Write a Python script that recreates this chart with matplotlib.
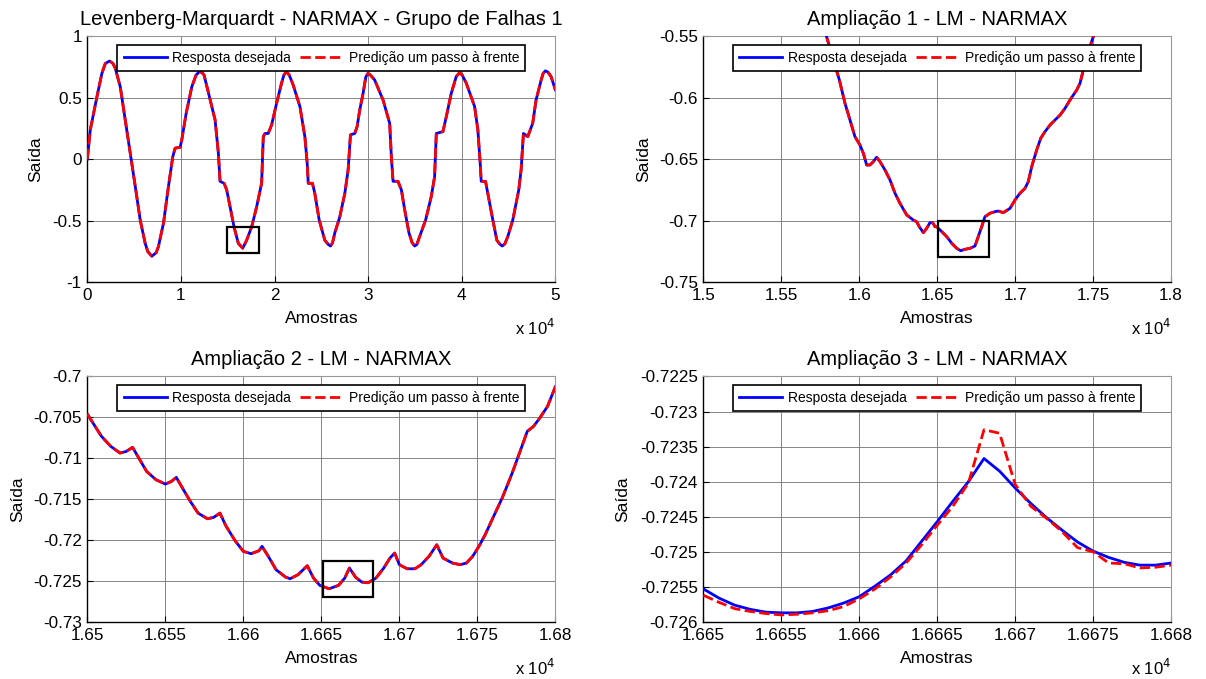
import numpy as np
import matplotlib
matplotlib.use('Agg')
import matplotlib.pyplot as plt
from matplotlib.patches import Rectangle
from matplotlib.ticker import FuncFormatter

plt.rcParams['font.family'] = ['Liberation Sans', 'DejaVu Sans']

# ---- data (sample index, output) ----
# panel 1: whole record
p1_x = [0, 320, 1030, 1560, 1920, 2380, 2740, 2990, 3520, 4050, 4585, 5120, 5650, 6180,
        6470, 6890, 7360, 7600, 8140, 8670, 9130, 9380, 9910, 10090, 10550, 11160, 11620,
        11970, 12260, 12470, 13040, 13650, 14000, 14180, 14610, 14890, 15250, 15670,
        16130, 16600, 17020, 17560, 18090, 18620, 18800, 18980, 19330, 19690, 20220,
        20750, 21000, 21280, 21570, 21990, 22710, 23240, 23490, 23600, 24050, 24300,
        24770, 25370, 25750, 25980, 26200, 26440, 26970, 27510, 27860, 28110, 28570,
        28820, 29100, 29460, 29750, 29990, 30250, 30700, 31590, 32300, 32480, 32660,
        33190, 33550, 33900, 34360, 34700, 34970, 35200, 35500, 36140, 36740, 37100,
        37280, 37990, 38350, 38880, 39410, 39600, 39770, 40050, 40480, 41370, 41720,
        41970, 42080, 42540, 42780, 43320, 43750, 44050, 44320, 44600, 44920, 45450,
        46090, 46340, 46590, 47050, 47580, 47940, 48480, 48700, 48930, 49200, 49540,
        50000]
p1_y = [0.0, 0.24, 0.51, 0.70, 0.78, 0.80, 0.78, 0.74, 0.59, 0.32, 0.05, -0.22, -0.495,
        -0.685, -0.753, -0.79, -0.761, -0.71, -0.52, -0.22, 0.02, 0.09, 0.097, 0.157, 0.37,
        0.59, 0.686, 0.713, 0.705, 0.686, 0.51, 0.32, 0.05, -0.18, -0.196, -0.25, -0.387,
        -0.55, -0.685, -0.725, -0.66, -0.55, -0.387, -0.196, 0.184, 0.21, 0.21, 0.28,
        0.456, 0.62, 0.686, 0.713, 0.686, 0.605, 0.43, 0.184, -0.033, -0.196, -0.196,
        -0.277, -0.495, -0.66, -0.695, -0.707, -0.68, -0.60, -0.47, -0.277, -0.088, 0.198,
        0.21, 0.265, 0.40, 0.537, 0.67, 0.70, 0.685, 0.645, 0.483, 0.293, 0.02, -0.18,
        -0.18, -0.25, -0.41, -0.60, -0.68, -0.707, -0.695, -0.63, -0.495, -0.305, -0.142,
        0.21, 0.225, 0.347, 0.537, 0.673, 0.69, 0.705, 0.685, 0.62, 0.43, 0.24, -0.033,
        -0.18, -0.18, -0.277, -0.495, -0.66, -0.69, -0.707, -0.69, -0.63, -0.495, -0.25,
        -0.088, 0.21, 0.184, 0.293, 0.483, 0.645, 0.70, 0.72, 0.71, 0.673, 0.565]

# panel 2: zoom 1
p2_x = [15760, 15790, 15833, 15872, 15908, 15940, 15972, 16004, 16026, 16047, 16068,
        16090, 16111, 16133, 16165, 16197, 16229, 16261, 16304, 16346, 16368, 16385,
        16411, 16432, 16453, 16471, 16486, 16497, 16529, 16561, 16593, 16625, 16651,
        16678, 16710, 16742, 16763, 16785, 16806, 16839, 16871, 16892, 16924, 16967,
        16999, 17031, 17063, 17084, 17106, 17138, 17164, 17191, 17224, 17256, 17288,
        17320, 17352, 17395, 17416, 17437, 17459, 17480, 17501, 17515]
p2_y = [-0.540, -0.5502, -0.569, -0.5854, -0.6044, -0.618, -0.6316, -0.6384, -0.6452,
        -0.6547, -0.6547, -0.652, -0.6484, -0.652, -0.6588, -0.6669, -0.6777, -0.6859,
        -0.6954, -0.6995, -0.7009, -0.705, -0.7098, -0.7063, -0.7017, -0.7017, -0.705,
        -0.705, -0.709, -0.7131, -0.7185, -0.7226, -0.7245, -0.7234, -0.7226, -0.7207,
        -0.7131, -0.705, -0.6968, -0.694, -0.6927, -0.6922, -0.6935, -0.690, -0.6832,
        -0.6777, -0.6737, -0.6683, -0.6561, -0.6425, -0.6329, -0.6276, -0.6221, -0.618,
        -0.614, -0.6085, -0.6017, -0.5936, -0.5881, -0.5773, -0.5678, -0.5583, -0.5502,
        -0.544]

# panel 3: zoom 2
p3_x = [16500, 16505, 16509, 16515, 16521, 16525, 16529, 16533, 16538, 16544, 16550,
        16554, 16557, 16561, 16566, 16571, 16577, 16581, 16585, 16589, 16595, 16600,
        16605, 16610, 16612, 16616, 16621, 16627, 16630, 16635, 16641, 16645, 16649,
        16655, 16661, 16665, 16668, 16672, 16676, 16680, 16685, 16690, 16694, 16697,
        16700, 16705, 16710, 16714, 16719, 16724, 16728, 16734, 16739, 16743, 16747,
        16751, 16755, 16760, 16766, 16772, 16777, 16782, 16786, 16790, 16795, 16800]
p3_y = [-0.70460, -0.70610, -0.70730, -0.70854, -0.70936, -0.70916, -0.70866, -0.70997,
        -0.71160, -0.71262, -0.71315, -0.71282, -0.71233, -0.71364, -0.71526, -0.71670,
        -0.71739, -0.71722, -0.71670, -0.71832, -0.72015, -0.72137, -0.72166, -0.72130,
        -0.72076, -0.72198, -0.72362, -0.72451, -0.72472, -0.72423, -0.72313, -0.72464,
        -0.72553, -0.72594, -0.72553, -0.72464, -0.72341, -0.72455, -0.72513, -0.72521,
        -0.72464, -0.72341, -0.72219, -0.72158, -0.72300, -0.72350, -0.72350, -0.72300,
        -0.72198, -0.72057, -0.72219, -0.72280, -0.72300, -0.72280, -0.72198, -0.72076,
        -0.71934, -0.71727, -0.71482, -0.71197, -0.70936, -0.70671, -0.70610, -0.70508,
        -0.70365, -0.70126]

# panel 4: zoom 3, one value per sample
p4_x = list(range(16650, 16681))
p4_desired = [-0.72553, -0.72566, -0.72576, -0.72582, -0.72586, -0.72587, -0.72587,
              -0.72585, -0.72580, -0.72573, -0.72564, -0.72549, -0.72533, -0.72513,
              -0.72485, -0.72457, -0.72428, -0.72400, -0.72367, -0.72385, -0.72409,
              -0.72431, -0.72451, -0.72469, -0.72486, -0.72499, -0.72508, -0.72515,
              -0.72519, -0.72519, -0.72516]
p4_pred = [-0.72562, -0.72572, -0.72581, -0.72585, -0.72588, -0.72590, -0.72589,
           -0.72587, -0.72584, -0.72578, -0.72567, -0.72553, -0.72536, -0.72516,
           -0.72490, -0.72462, -0.72435, -0.72402, -0.72326, -0.72331, -0.72404,
           -0.72435, -0.72452, -0.72471, -0.72494, -0.72500, -0.72516, -0.72517,
           -0.72523, -0.72522, -0.72519]

titles = ['Levenberg-Marquardt - NARMAX - Grupo de Falhas 1',
          'Ampliação 1 - LM - NARMAX',
          'Ampliação 2 - LM - NARMAX',
          'Ampliação 3 - LM - NARMAX']
xlims = [(0, 50000), (15000, 18000), (16500, 16800), (16650, 16680)]
ylims = [(-1, 1), (-0.75, -0.55), (-0.73, -0.70), (-0.726, -0.7225)]
xticks = [np.arange(0, 50001, 10000), np.arange(15000, 18001, 500),
          np.arange(16500, 16801, 50), np.arange(16650, 16681, 5)]
yticks = [np.arange(-1, 1.01, 0.5), np.arange(-0.75, -0.5499, 0.05),
          np.arange(-0.73, -0.6999, 0.005), np.arange(-0.726, -0.72249, 0.0005)]
# zoom rectangles (x0, y0, width, height)
boxes = [(14900, -0.766, 3400, 0.211), (16505, -0.7295, 330, 0.0292),
         (16651, -0.7269, 32, 0.0044), None]

series = [(p1_x, p1_y, p1_y), (p2_x, p2_y, p2_y), (p3_x, p3_y, p3_y),
          (p4_x, p4_desired, p4_pred)]

positions = [[0.0724, 0.5847, 0.3881, 0.3616], [0.5833, 0.5847, 0.3877, 0.3616],
             [0.0724, 0.0840, 0.3881, 0.3616], [0.5833, 0.0840, 0.3877, 0.3616]]
ylab_x = [-0.094, -0.112, -0.133, -0.156]

fig = plt.figure(figsize=(12.06, 6.79), dpi=100)

for i in range(4):
    ax = fig.add_axes(positions[i])
    x, yd, yp = series[i]
    ax.plot(x, yd, color='#0000ff', lw=2.0, label='Resposta desejada', zorder=3)
    ax.plot(x, yp, color='#ff0000', lw=2.0, ls='--', label='Predição um passo à frente', zorder=4)
    if boxes[i] is not None:
        bx = boxes[i]
        ax.add_patch(Rectangle((bx[0], bx[1]), bx[2], bx[3], fill=False,
                               edgecolor='black', lw=1.6, zorder=5))
    ax.set_xlim(xlims[i])
    ax.set_ylim(ylims[i])
    ax.set_xticks(xticks[i])
    ax.set_yticks(yticks[i])
    ax.xaxis.set_major_formatter(FuncFormatter(lambda v, p: '%g' % round(v / 1e4, 6)))
    ax.yaxis.set_major_formatter(FuncFormatter(lambda v, p: '%g' % round(v, 6)))
    ax.tick_params(direction='in', length=4, labelsize=12.3, pad=4, width=0.8)
    ax.grid(True, color='0.45', lw=0.6)
    for side in ['left', 'bottom']:
        ax.spines[side].set_linewidth(1.0)
    for side in ['top', 'right']:
        ax.spines[side].set_color('0.6')
        ax.spines[side].set_linewidth(0.8)
    ax.set_title(titles[i], fontsize=14.5, pad=8)
    ax.set_xlabel('Amostras', fontsize=12.5, labelpad=6)
    ax.set_ylabel('Saída', fontsize=12.5)
    ax.yaxis.set_label_coords(ylab_x[i], 0.5)
    ax.text(1.0, -0.187, r'x 10$^{4}$', transform=ax.transAxes, ha='right',
            va='center', fontsize=12)
    leg = ax.legend(loc='upper center', bbox_to_anchor=(0.5, 0.967), ncol=2,
                    borderaxespad=0, fontsize=10, frameon=True, fancybox=False,
                    framealpha=1, edgecolor='black', handlelength=3.1,
                    handletextpad=0.4, columnspacing=0.65, borderpad=0.45)
    leg.get_frame().set_linewidth(1.2)
    leg.set_zorder(10)

fig.savefig('out.png', dpi=100, facecolor='white')
